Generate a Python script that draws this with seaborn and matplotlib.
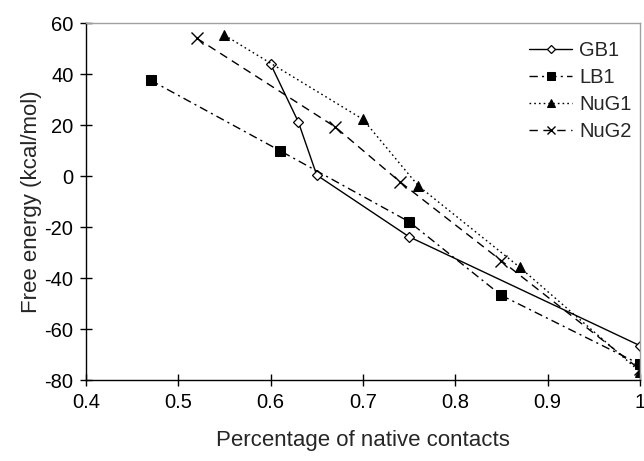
import numpy as np
import pandas as pd
import matplotlib
matplotlib.use("Agg")
import matplotlib.pyplot as plt
import seaborn as sns

# values
gb1_x = [0.60, 0.63, 0.65, 0.75, 1.00]
gb1_y = [44, 21.3, 0.4, -23.8, -66.5]
lb1_x = [0.47, 0.61, 0.75, 0.85, 1.00]
lb1_y = [37.6, 10, -17.9, -46.8, -73.8]
nug1_x = [0.55, 0.70, 0.76, 0.87, 1.00]
nug1_y = [55.3, 22.3, -3.8, -35.8, -76.7]
nug2_x = [0.52, 0.67, 0.74, 0.85, 1.00]
nug2_y = [54.1, 19.3, -2.2, -33.2, -75.8]

x_ticks = [0.4, 0.5, 0.6, 0.7, 0.8, 0.9, 1.0]
x_tick_labels = ["0.4", "0.5", "0.6", "0.7", "0.8", "0.9", "1"]
y_ticks = [-80, -60, -40, -20, 0, 20, 40, 60]

sns.set_style("ticks")
plt.rcParams["font.family"] = ["Liberation Sans", "DejaVu Sans"]
plt.rcParams["axes.unicode_minus"] = False

fig = plt.figure(figsize=(6.44, 4.61), dpi=100)
ax = fig.add_axes([0.1335, 0.1757, 0.860, 0.774])

# one call per series, each with its own marker and dash pattern
sns.lineplot(x=gb1_x, y=gb1_y, ax=ax, color="black", lw=1, marker="D",
             markersize=5, markerfacecolor="white", markeredgecolor="black",
             markeredgewidth=0.9, linestyle="-", label="GB1")
sns.lineplot(x=lb1_x, y=lb1_y, ax=ax, color="black", lw=1, marker="s",
             markersize=7, markerfacecolor="black", markeredgecolor="black",
             linestyle=(0, (6, 3, 1.5, 3)), label="LB1")
sns.lineplot(x=nug1_x, y=nug1_y, ax=ax, color="black", lw=1, marker="^",
             markersize=7, markerfacecolor="black", markeredgecolor="black",
             linestyle=(0, (1.2, 2.2)), label="NuG1")
sns.lineplot(x=nug2_x, y=nug2_y, ax=ax, color="black", lw=1, marker="x",
             markersize=8, markeredgewidth=1, markeredgecolor="black",
             linestyle=(0, (6, 4)), label="NuG2")

ax.set_xlim(0.4, 1.0)
ax.set_ylim(-80, 60)
ax.set_xticks(x_ticks)
ax.set_xticklabels(x_tick_labels)
ax.set_yticks(y_ticks)
ax.tick_params(direction="inout", length=8, width=1, labelsize=14.5,
               colors="black", pad=5)
ax.set_xlabel("Percentage of native contacts", fontsize=16, labelpad=13)
ax.set_ylabel("Free energy (kcal/mol)", fontsize=16, labelpad=2)

for side in ["left", "bottom"]:
    ax.spines[side].set_color("black")
    ax.spines[side].set_linewidth(1)
for side in ["top", "right"]:
    ax.spines[side].set_visible(True)
    ax.spines[side].set_color("#a0a0a0")
    ax.spines[side].set_linewidth(1)

ax.legend(loc="upper right", bbox_to_anchor=(1.0, 0.972), frameon=False,
          fontsize=14.5, handlelength=2.15, handletextpad=0.35,
          labelspacing=0.4, borderaxespad=0, markerscale=0.8)

fig.savefig("out.png", dpi=100)
